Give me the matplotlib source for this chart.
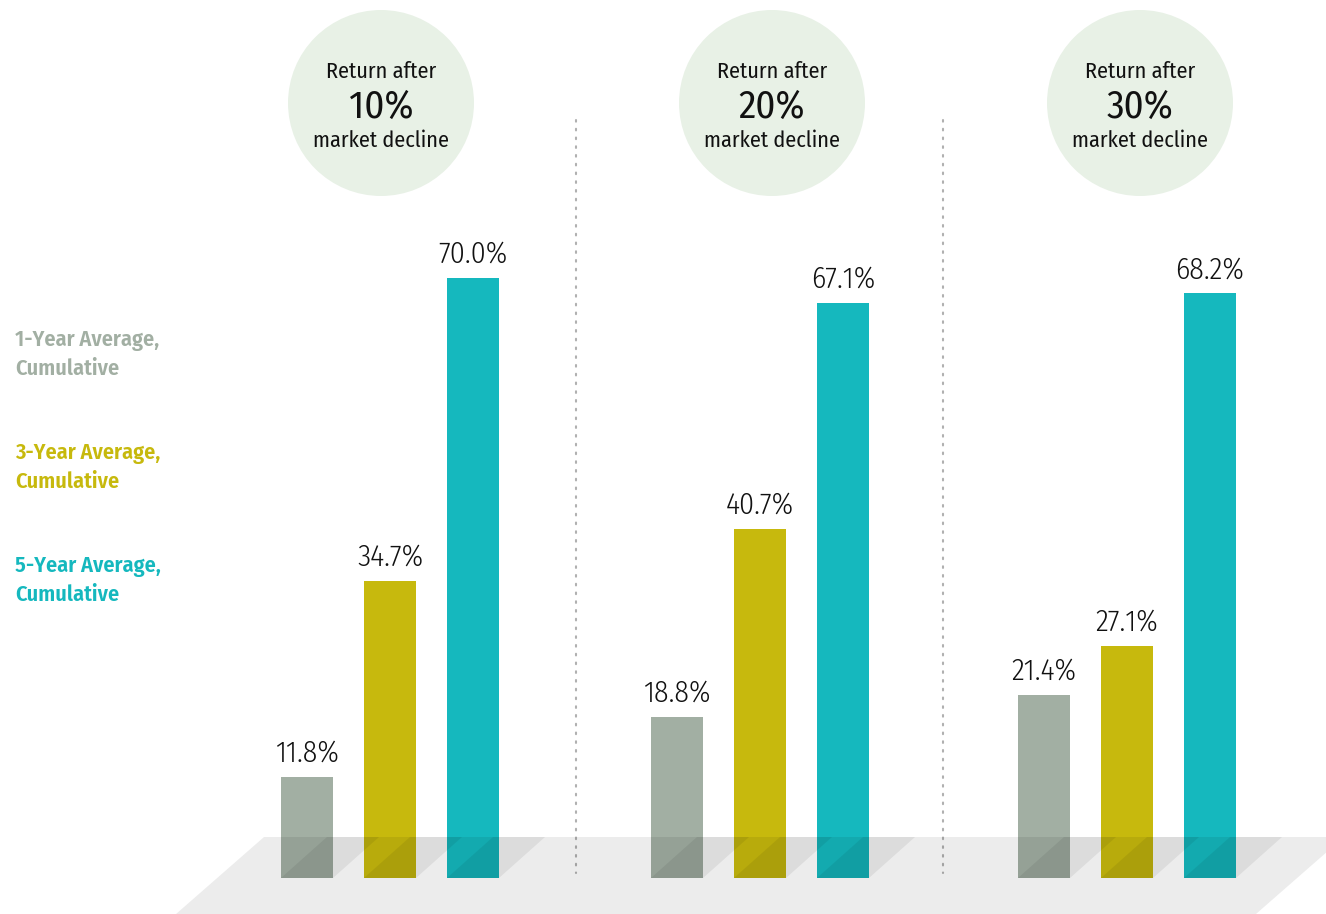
import matplotlib
matplotlib.use("Agg")
import matplotlib.pyplot as plt
from matplotlib.patches import Polygon, Ellipse

plt.rcParams['font.family'] = ['Fira Sans Condensed', 'DejaVu Sans']

# Data
declines = ['10%', '20%', '30%']
series_names = ['1-Year Average,\nCumulative', '3-Year Average,\nCumulative', '5-Year Average,\nCumulative']
one_year = [11.8, 18.8, 21.4]
three_year = [34.7, 40.7, 27.1]
five_year = [70.0, 67.1, 68.2]

colors = ['#A2AFA3', '#C7B90D', '#15B8BE']

# layout (pixel space of a 1326x914 canvas, y measured from top)
W, H = 1326, 914
BASE = 878          # pixel row of bar bottom
PX_PER_PCT = 600 / 70.0
FLOOR_TOP = 837


def py(y):
    """pixel row -> data y (percent)"""
    return (BASE - y) / PX_PER_PCT


fig = plt.figure(figsize=(W / 100, H / 100), dpi=100)
ax = fig.add_axes([0, 0, 1, 1])
ax.set_xlim(0, W)
ax.set_ylim(py(H), py(0))
ax.axis('off')

group_centers = [390, 760, 1127]
offsets = [-83, 0, 83]
bar_w = 52

# bars
for vals, off, col in zip([one_year, three_year, five_year], offsets, colors):
    xs = [g + off for g in group_centers]
    ax.bar(xs, vals, width=bar_w, color=col, zorder=2)
    for x, v in zip(xs, vals):
        ax.annotate(f'{v:.1f}%', xy=(x, v), xytext=(0, 11), textcoords='offset points',
                    ha='center', va='baseline', fontsize=21.5, fontweight=300,
                    color='#111111', zorder=5)

# floor (semi transparent, drawn over the bars)
floor = Polygon([(264, py(FLOOR_TOP)), (1344, py(FLOOR_TOP)), (1256, py(H)), (176, py(H))],
                closed=True, facecolor='black', alpha=0.075, edgecolor='none', zorder=3)
ax.add_patch(floor)

# shadows of each bar
dx = 46
for off in offsets:
    for g in group_centers:
        x0 = g + off - bar_w / 2
        sh = Polygon([(x0, 0), (x0 + bar_w, 0), (x0 + bar_w + dx, py(FLOOR_TOP)), (x0 + dx, py(FLOOR_TOP))],
                     closed=True, facecolor='black', alpha=0.065, edgecolor='none', zorder=4)
        ax.add_patch(sh)

# dotted separators
for x in [576, 943]:
    ax.plot([x, x], [py(120), py(873)], color='#B0B0B0', lw=1.5,
            linestyle=(0, (0.8, 3.4)), dash_capstyle='round', zorder=1)

# header circles
circle_x = [381, 772, 1140]
r = 93
for cx, d in zip(circle_x, declines):
    ax.add_patch(Ellipse((cx, py(103)), 2 * r, 2 * r / PX_PER_PCT, facecolor='#E8F1E6',
                         edgecolor='none', zorder=1))
    ax.text(cx, py(78), 'Return after', ha='center', va='baseline', fontsize=16, color='#111111')
    ax.text(cx, py(118), d, ha='center', va='baseline', fontsize=28, color='#111111')
    ax.text(cx, py(147), 'market decline', ha='center', va='baseline', fontsize=16, color='#111111')

# legend labels at left
legend_y = [346, 459, 572]
for name, col, y in zip(series_names, colors, legend_y):
    l1, l2 = name.split('\n')
    ax.text(15, py(y), l1, ha='left', va='baseline', fontsize=16, fontweight=600, color=col)
    ax.text(15, py(y + 29), l2, ha='left', va='baseline', fontsize=16, fontweight=600, color=col)

fig.savefig('out.png', dpi=100)
